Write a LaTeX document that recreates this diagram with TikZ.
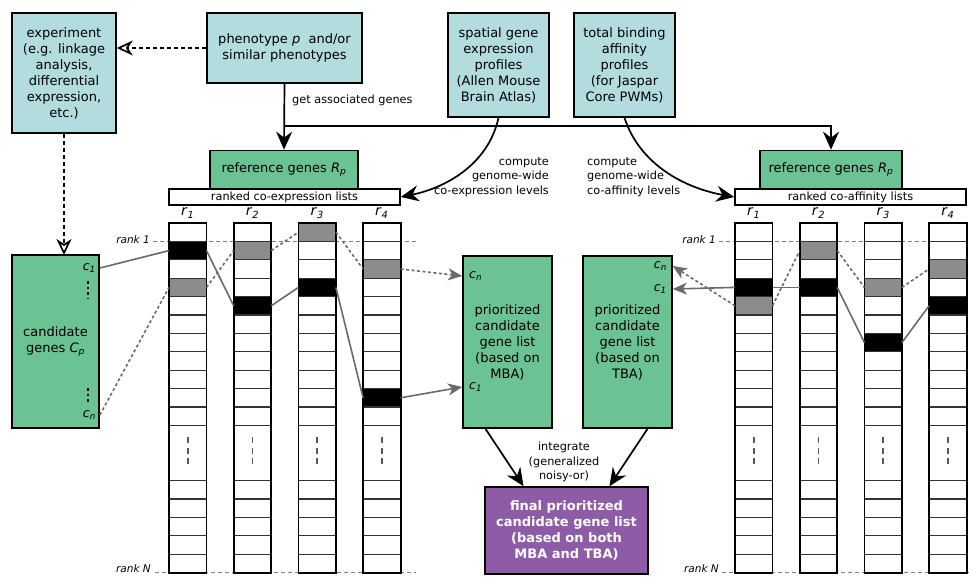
\documentclass[tikz,border=0pt]{standalone}
\usepackage{fontspec}
\setmainfont{DejaVu Sans}
\usetikzlibrary{arrows.meta}
\definecolor{boxblue}{HTML}{B3DCDF}
\definecolor{boxgreen}{HTML}{6BC293}
\definecolor{boxpurple}{HTML}{8E5BA6}
\definecolor{cellgrey}{HTML}{8C8C8C}
\definecolor{conngrey}{HTML}{6A6A6A}
\newcommand\rankcolfill[1]{\fill[white] (#1,223) rectangle ++(37.5,349.6);}
\newcommand\rankcolgrid[1]{%
  \foreach \i in {1,...,11} {\draw[rowline] (#1,223+\i*18.4) -- ++(37.5,0);}
  \foreach \i in {14,...,18} {\draw[rowline] (#1,223+\i*18.4) -- ++(37.5,0);}
  \draw[celldots] (#1+18.75,437) -- (#1+18.75,468);
  \draw[colborder] (#1,223) rectangle ++(37.5,349.6);}
\begin{document}
\begin{tikzpicture}[x=1pt,y=-1pt,
  box/.style={draw=black, line width=1.7pt, align=center, inner sep=2pt,
    font=\fontsize{13}{16}\selectfont},
  bluebox/.style={box, fill=boxblue},
  greenbox/.style={box, fill=boxgreen},
  purplebox/.style={box, fill=boxpurple, text=white, font=\fontsize{13}{16}\selectfont\bfseries},
  lbl/.style={font=\fontsize{11.3}{14.5}\selectfont, inner sep=0pt},
  ranklbl/.style={font=\fontsize{10.5}{12}\selectfont\itshape, inner sep=0pt},
  collbl/.style={font=\fontsize{14}{14}\selectfont, inner sep=0pt},
  clbl/.style={font=\fontsize{12.5}{14}\selectfont, inner sep=0pt},
  flow/.style={draw=black, line width=1.7pt, -{Stealth[length=18pt,width=16pt,inset=6pt]}},
  dflow/.style={draw=black, line width=1.7pt, dash pattern=on 4pt off 3pt,
    -{Stealth[open,length=16pt,width=15pt,inset=5pt]}},
  conn/.style={draw=conngrey, line width=1.6pt},
  dconn/.style={conn, dash pattern=on 3pt off 2.5pt},
  carrow/.style={-{Stealth[length=14pt,width=12pt,inset=4pt]}},
  rankline/.style={draw=gray, line width=1.4pt, dash pattern=on 4pt off 3pt},
  rowline/.style={draw=black!80, line width=1.2pt},
  colborder/.style={draw=black, line width=1.8pt},
  celldots/.style={draw=black!65, line width=1.6pt, dash pattern=on 6pt off 4.5pt},
  vdots/.style={draw=black, line width=1.6pt, dash pattern=on 2.5pt off 3pt},
  blackcell/.style={fill=black, minimum width=37.5pt, minimum height=18.4pt, inner sep=0pt, outer sep=0pt},
  greycell/.style={fill=cellgrey, minimum width=37.5pt, minimum height=18.4pt, inner sep=0pt, outer sep=0pt}
]
\useasboundingbox (0,0) rectangle (969,576);

% ---------- top boxes ----------
\node[bluebox, minimum width=104pt, minimum height=120pt] (exp) at (64,73)
  {experiment\\(e.g. linkage\\analysis,\\differential\\expression,\\etc.)};
\node[bluebox, minimum width=155pt, minimum height=70pt] (pheno) at (284.5,48)
  {phenotype \textit{p} \ and/or\\similar phenotypes};
\node[bluebox, minimum width=101pt, minimum height=104pt] (spatial) at (498.5,65)
  {spatial gene\\expression\\profiles\\(Allen Mouse\\Brain Atlas)};
\node[bluebox, minimum width=101pt, minimum height=104pt] (binding) at (624.5,65)
  {total binding\\affinity\\profiles\\(for Jaspar\\Core PWMs)};

\node[greenbox, minimum width=148pt, minimum height=38pt] (refL) at (284,169.5)
  {reference genes \textit{R}\textsubscript{\textit{p}}};
\node[draw=black, fill=white, line width=1.5pt, minimum width=231pt, minimum height=16pt,
  inner sep=0pt, font=\fontsize{11.3}{12}\selectfont] (rankL) at (284.5,197) {ranked co-expression lists};
\node[greenbox, minimum width=142pt, minimum height=38pt] (refR) at (831,169.5)
  {reference genes \textit{R}\textsubscript{\textit{p}}};
\node[draw=black, fill=white, line width=1.5pt, minimum width=231pt, minimum height=16pt,
  inner sep=0pt, font=\fontsize{11.3}{12}\selectfont] (rankR) at (850.5,197) {ranked co-affinity lists};

\node[lbl, anchor=west] (getlbl) at (292,100) {get associated genes};
\node[lbl, align=right, anchor=east] (complL) at (549,177) {compute\\genome-wide\\co-expression levels};
\node[lbl, align=left, anchor=west] (complR) at (587,177) {compute\\genome-wide\\co-affinity levels};

% ---------- top connectors ----------
\coordinate (branch) at (285,126);
\draw[dflow] (pheno.west) -- (exp.east |- pheno.west);
\draw[dflow] (exp.south) -- (64,255);
\draw[flow] (pheno.south) -- (refL.north);
\draw[flow] (branch) -| (refR.north);
\draw[flow] (spatial.south) .. controls (488,165) and (445,188) .. (rankL.east);
\draw[flow] (binding.south) .. controls (640,165) and (685,188) .. (rankR.west);

% ---------- rank lines ----------
\node[ranklbl, anchor=east] (Lrank1) at (150,240) {rank 1};
\node[ranklbl, anchor=east] (LrankN) at (151,569) {rank N};
\node[ranklbl, anchor=east] (Rrank1) at (716,240) {rank 1};
\node[ranklbl, anchor=east] (RrankN) at (719,569) {rank N};
\coordinate (Lr1a) at (153,241.4); \coordinate (Lr1b) at (416,241.4);
\coordinate (LrNa) at (155,572.6); \coordinate (LrNb) at (416,572.6);
\coordinate (Rr1a) at (719,241.4); \coordinate (Rr1b) at (969,241.4);
\coordinate (RrNa) at (722,572.6); \coordinate (RrNb) at (969,572.6);
\draw[rankline] (Lr1a) -- (Lr1b);
\draw[rankline] (LrNa) -- (LrNb);
\draw[rankline] (Rr1a) -- (Rr1b);
\draw[rankline] (RrNa) -- (RrNb);

% ---------- columns ----------
\foreach \cx in {169,233.7,298.4,363.1,735,799.7,864.4,929.1} {\rankcolfill{\cx}}
% left cells
\node[blackcell] (L1b) at (187.75,250.6) {};
\node[greycell]  (L1g) at (187.75,287.4) {};
\node[greycell]  (L2g) at (252.45,250.6) {};
\node[blackcell] (L2b) at (252.45,305.8) {};
\node[greycell]  (L3g) at (317.15,232.2) {};
\node[blackcell] (L3b) at (317.15,287.4) {};
\node[greycell]  (L4g) at (381.85,269) {};
\node[blackcell] (L4b) at (381.85,397.8) {};
% right cells
\node[blackcell] (R1b) at (753.75,287.4) {};
\node[greycell]  (R1g) at (753.75,305.8) {};
\node[greycell]  (R2g) at (818.45,250.6) {};
\node[blackcell] (R2b) at (818.45,287.4) {};
\node[greycell]  (R3g) at (883.15,287.4) {};
\node[blackcell] (R3b) at (883.15,342.6) {};
\node[greycell]  (R4g) at (947.85,269) {};
\node[blackcell] (R4b) at (947.85,305.8) {};
\foreach \cx in {169,233.7,298.4,363.1,735,799.7,864.4,929.1} {\rankcolgrid{\cx}}

% column labels
\foreach \cx/\n/\side in {187.75/1/L,252.45/2/L,317.15/3/L,381.85/4/L,753.75/1/R,818.45/2/R,883.15/3/R,947.85/4/R}
  {\node[collbl] (\side col\n) at (\cx,213) {\textit{r}\textsubscript{\textit{\n}}};}

% ---------- green lists ----------
\node[greenbox, minimum width=87pt, minimum height=173pt] (cand) at (55.5,341.5)
  {candidate\\genes \textit{C}\textsubscript{\textit{p}}};
\node[clbl, anchor=east] (candc1) at (96,268) {\textit{c}\textsubscript{\textit{1}}};
\node[clbl, anchor=east] (candcn) at (96,415) {\textit{c}\textsubscript{\textit{n}}};
\coordinate (cd1a) at (88,281); \coordinate (cd1b) at (88,299);
\coordinate (cdna) at (88,388); \coordinate (cdnb) at (88,404);
\draw[vdots] (cd1a) -- (cd1b);
\draw[vdots] (cdna) -- (cdnb);

\node[greenbox, minimum width=89pt, minimum height=172pt] (mba) at (507.5,342)
  {prioritized\\candidate\\gene list\\(based on\\MBA)};
\node[clbl, anchor=west] (mbacn) at (469,276) {\textit{c}\textsubscript{\textit{n}}};
\node[clbl, anchor=west] (mbac1) at (469,387) {\textit{c}\textsubscript{\textit{1}}};
\node[greenbox, minimum width=89pt, minimum height=172pt] (tbab) at (627.5,342)
  {prioritized\\candidate\\gene list\\(based on\\TBA)};
\node[clbl, anchor=east] (tbacn) at (667,266) {\textit{c}\textsubscript{\textit{n}}};
\node[clbl, anchor=east] (tbac1) at (667,289) {\textit{c}\textsubscript{\textit{1}}};

\node[purplebox, minimum width=163pt, minimum height=87pt] (final) at (566.5,530.5)
  {final prioritized\\candidate gene list\\(based on both\\MBA and TBA)};
\node[lbl, align=center] (integ) at (564,462) {integrate\\(generalized\\noisy-or)};

\draw[flow] ([xshift=-22pt]mba.south) -- ([xshift=-43pt]final.north);
\draw[flow] ([xshift=20pt]tbab.south) -- ([xshift=43pt]final.north);

% ---------- left connectors ----------
\draw[conn] (cand.east |- candc1) -- (L1b.west);
\draw[conn] (L1b.east) -- (L2b.west);
\draw[conn] (L2b.east) -- (L3b.west);
\draw[conn] (L3b.east) -- (L4b.west);
\draw[conn, carrow] (L4b.east) -- (mba.west |- mbac1);
\draw[dconn] (cand.east |- candcn) -- (L1g.west);
\draw[dconn] (L1g.east) -- (L2g.west);
\draw[dconn] (L2g.east) -- (L3g.west);
\draw[dconn] (L3g.east) -- (L4g.west);
\draw[dconn, carrow] (L4g.east) -- (mba.west |- mbacn);

% ---------- right connectors ----------
\draw[conn, carrow] (R1b.west) -- (tbab.east |- tbac1);
\draw[conn] (R1b.east) -- (R2b.west);
\draw[conn] (R2b.east) -- (R3b.west);
\draw[conn] (R3b.east) -- (R4b.west);
\draw[dconn, carrow] (R1g.west) -- (tbab.east |- tbacn);
\draw[dconn] (R1g.east) -- (R2g.west);
\draw[dconn] (R2g.east) -- (R3g.west);
\draw[dconn] (R3g.east) -- (R4g.west);
\end{tikzpicture}
\end{document}
